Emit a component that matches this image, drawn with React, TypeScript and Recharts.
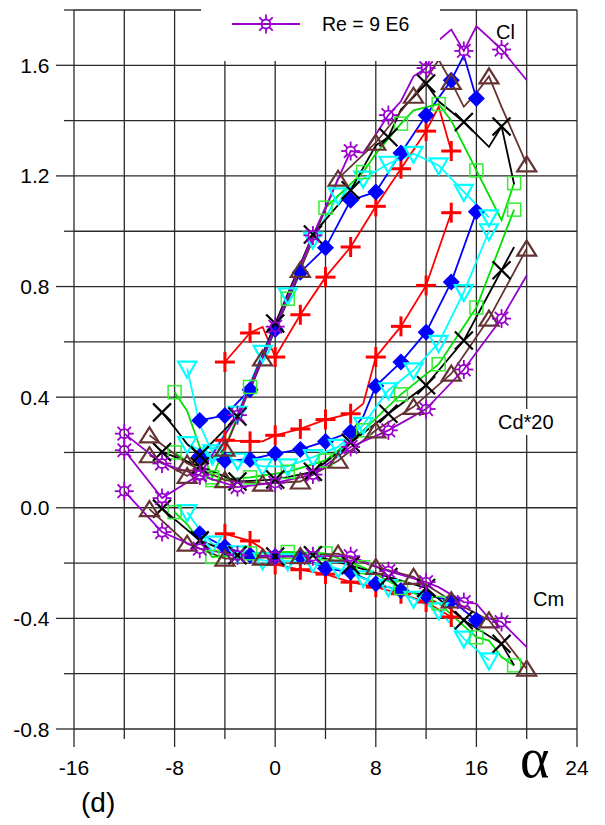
import React from 'react';
import { LineChart, Line, XAxis, YAxis, CartesianGrid, Legend } from 'recharts';

// axis ticks
const xTicks = [-16, -12, -8, -4, 0, 4, 8, 12, 16, 20, 24];
const xLabels = [-16, -8, 0, 8, 16, 24];
const yTicks = [-0.8, -0.6, -0.4, -0.2, 0, 0.2, 0.4, 0.6, 0.8, 1, 1.2, 1.4, 1.6, 1.8];
const yLabels = [-0.8, -0.4, 0, 0.4, 0.8, 1.2, 1.6];

// red (+)
const redMarks = [-4, -2, 0, 2, 4, 6, 8, 10, 12, 14];
const redClA = [-4, -2, -1, 0, 2, 4, 6, 8, 10, 12, 13, 14];
const redCl = [0.527, 0.632, 0.654, 0.545, 0.698, 0.834, 0.943, 1.09, 1.226, 1.362, 1.45, 1.29];
const redCdA = [-4, -2, -1, 0, 2, 4, 6, 7, 8, 10, 12, 14];
const redCd = [0.244, 0.24, 0.24, 0.262, 0.285, 0.319, 0.34, 0.376, 0.545, 0.656, 0.804, 1.067];
const redCmA = [-4, -2, -1, 0, 2, 4, 6, 8, 10, 12, 14];
const redCm = [-0.094, -0.12, -0.148, -0.205, -0.224, -0.24, -0.269, -0.287, -0.311, -0.341, -0.395];

// blue (filled diamond)
const blueMarks = [-6, -4, -2, 0, 2, 4, 6, 8, 10, 12, 14, 16];
const blueClA = [-6, -4, -2, 0, 2, 4, 6, 8, 10, 12, 14, 15, 16];
const blueCl = [0.316, 0.334, 0.427, 0.645, 0.852, 0.94, 1.112, 1.142, 1.283, 1.419, 1.546, 1.636, 1.48];
const blueCdA = [-6, -4, -2, 0, 2, 4, 6, 7, 8, 10, 12, 14, 16];
const blueCd = [0.186, 0.171, 0.175, 0.196, 0.211, 0.24, 0.274, 0.33, 0.44, 0.527, 0.635, 0.816, 1.07];
const blueCmA = [-6, -4, -2, 0, 2, 4, 6, 8, 10, 12, 14, 16];
const blueCm = [-0.094, -0.142, -0.172, -0.176, -0.176, -0.22, -0.232, -0.275, -0.299, -0.317, -0.335, -0.407];

// cyan (down triangle)
const cyanMarks = [-7, -5, -3, -1, 1, 3, 5, 7, 9, 11, 13, 15, 17];
const cyanClA = [-7, -6, -5, -3, -1, 1, 3, 5, 7, 9, 11, 13, 15, 17];
const cyanCl = [0.503, 0.3, 0.2, 0.34, 0.56, 0.768, 0.97, 1.13, 1.19, 1.244, 1.28, 1.238, 1.142, 1.05];
const cyanCdA = [-7, -5, -3, -1, 1, 3, 5, 7, 9, 11, 13, 15, 17];
const cyanCd = [0.23, 0.19, 0.17, 0.15, 0.15, 0.183, 0.22, 0.3, 0.425, 0.497, 0.596, 0.78, 1.0];
const cyanCmA = [-7, -6, -5, -3, -1, 1, 3, 5, 7, 9, 11, 13, 15, 17];
const cyanCm = [-0.016, -0.08, -0.13, -0.165, -0.19, -0.193, -0.2, -0.22, -0.255, -0.287, -0.329, -0.371, -0.473, -0.552];

// green (square)
const greenMarks = [-8, -5, -2, 1, 4, 7, 10, 13, 16, 19];
const greenClA = [-8, -7, -6, -5, -2, 1, 4, 7, 8, 10, 11, 13, 14, 16, 18, 19];
const greenCl = [0.418, 0.35, 0.22, 0.11, 0.437, 0.756, 1.085, 1.214, 1.28, 1.389, 1.437, 1.46, 1.4, 1.22, 1.04, 1.174];
const greenCdA = [-8, -5, -2, 1, 4, 7, 10, 13, 16, 19];
const greenCd = [0.2, 0.1, 0.11, 0.13, 0.171, 0.28, 0.41, 0.519, 0.724, 1.078];
const greenCmA = [-8, -7, -5, -2, 1, 4, 7, 10, 13, 16, 17, 18, 19];
const greenCm = [-0.016, -0.06, -0.178, -0.165, -0.16, -0.165, -0.215, -0.29, -0.345, -0.468, -0.48, -0.54, -0.57];

// black (x)
const blackMarks = [-9, -6, -3, 0, 3, 6, 9, 12, 15, 18];
const blackClA = [-9, -8, -7, -6, -3, 0, 3, 6, 7, 8, 9, 10, 11, 12, 13, 15, 16, 17, 18, 19];
const blackCl = [0.345, 0.29, 0.23, 0.19, 0.33, 0.666, 0.988, 1.148, 1.23, 1.31, 1.34, 1.44, 1.485, 1.534, 1.47, 1.395, 1.35, 1.305, 1.379, 1.17];
const blackCdA = [-9, -6, -3, 0, 3, 6, 9, 12, 15, 18, 19];
const blackCd = [0.202, 0.15, 0.095, 0.102, 0.13, 0.235, 0.34, 0.443, 0.605, 0.859, 0.943];
const blackCmA = [-9, -6, -3, 0, 3, 6, 9, 12, 15, 18, 19];
const blackCm = [-0.003, -0.118, -0.172, -0.176, -0.172, -0.208, -0.25, -0.29, -0.407, -0.492, -0.57];

// brown (up triangle)
const brownMarks = [-10, -7, -4, -1, 2, 5, 8, 11, 14, 17, 20];
const brownClA = [-10, -7, -4, -1, 2, 5, 8, 11, 12, 13, 14, 15, 16, 17, 18, 20];
const brownCl = [0.19, 0.115, 0.214, 0.54, 0.86, 1.19, 1.32, 1.49, 1.55, 1.62, 1.54, 1.45, 1.5, 1.56, 1.45, 1.242];
const brownCdA = [-10, -7, -4, -1, 2, 5, 8, 11, 14, 17, 20];
const brownCd = [0.262, 0.16, 0.1, 0.087, 0.095, 0.17, 0.28, 0.365, 0.485, 0.684, 0.937];
const brownCmA = [-10, -7, -4, -1, 2, 5, 8, 11, 14, 17, 20];
const brownCm = [-0.005, -0.13, -0.184, -0.18, -0.175, -0.166, -0.214, -0.25, -0.335, -0.407, -0.582];

// purple (star), Re = 9 E6
const purpleMarks = [-12, -9, -6, -3, 0, 3, 6, 9, 12, 15, 18];
const purpleClA = [-12, -9, -6, -3, 0, 3, 6, 7, 8, 9, 10, 11, 12, 13, 14, 15, 16, 17, 18, 20];
const purpleCl = [0.208, 0.035, 0.12, 0.335, 0.655, 0.985, 1.29, 1.284, 1.35, 1.42, 1.47, 1.56, 1.59, 1.69, 1.729, 1.652, 1.741, 1.7, 1.657, 1.546];
const purpleCdA = [-12, -9, -6, -3, 0, 3, 6, 9, 12, 15, 18, 20];
const purpleCd = [0.268, 0.16, 0.117, 0.075, 0.09, 0.12, 0.22, 0.28, 0.357, 0.5, 0.684, 0.84];
const purpleCmA = [-12, -9, -6, -3, 0, 3, 6, 9, 12, 13, 15, 16, 17, 18, 20];
const purpleCm = [0.06, -0.088, -0.148, -0.172, -0.176, -0.175, -0.175, -0.229, -0.269, -0.287, -0.341, -0.347, -0.4, -0.413, -0.504];

type Shape = 'plus' | 'diamond' | 'triDown' | 'square' | 'cross' | 'triUp' | 'star';

interface SeriesDef {
  id: string;
  line: string;
  mark: string;
  shape: Shape;
  marks: number[];
  curves: [number[], number[]][];
}

const series: SeriesDef[] = [
  { id: 'red', line: '#FF0000', mark: '#FF0000', shape: 'plus', marks: redMarks, curves: [[redClA, redCl], [redCdA, redCd], [redCmA, redCm]] },
  { id: 'blue', line: '#0000FF', mark: '#0000FF', shape: 'diamond', marks: blueMarks, curves: [[blueClA, blueCl], [blueCdA, blueCd], [blueCmA, blueCm]] },
  { id: 'cyan', line: '#00FFFF', mark: '#00FFFF', shape: 'triDown', marks: cyanMarks, curves: [[cyanClA, cyanCl], [cyanCdA, cyanCd], [cyanCmA, cyanCm]] },
  { id: 'green', line: '#00E000', mark: '#33EE33', shape: 'square', marks: greenMarks, curves: [[greenClA, greenCl], [greenCdA, greenCd], [greenCmA, greenCm]] },
  { id: 'black', line: '#000000', mark: '#000000', shape: 'cross', marks: blackMarks, curves: [[blackClA, blackCl], [blackCdA, blackCd], [blackCmA, blackCm]] },
  { id: 'brown', line: '#663333', mark: '#663333', shape: 'triUp', marks: brownMarks, curves: [[brownClA, brownCl], [brownCdA, brownCd], [brownCmA, brownCm]] },
  { id: 'purple', line: '#9900CC', mark: '#9900CC', shape: 'star', marks: purpleMarks, curves: [[purpleClA, purpleCl], [purpleCdA, purpleCd], [purpleCmA, purpleCm]] },
];

const FONT = '"Liberation Sans", Arial, sans-serif';

function Marker({ shape, color, cx, cy }: { shape: Shape; color: string; cx: number; cy: number }) {
  switch (shape) {
    case 'plus':
      return (
        <g stroke={color} strokeWidth={3}>
          <line x1={cx - 10} y1={cy} x2={cx + 10} y2={cy} />
          <line x1={cx} y1={cy - 10} x2={cx} y2={cy + 10} />
        </g>
      );
    case 'diamond':
      return <polygon points={`${cx},${cy - 8.5} ${cx + 8.5},${cy} ${cx},${cy + 8.5} ${cx - 8.5},${cy}`} fill={color} />;
    case 'triDown':
      return <polygon points={`${cx - 9},${cy - 7} ${cx + 9},${cy - 7} ${cx},${cy + 9}`} fill="none" stroke={color} strokeWidth={2.2} />;
    case 'square':
      return <rect x={cx - 6.5} y={cy - 6.5} width={13} height={13} fill="none" stroke={color} strokeWidth={1.5} />;
    case 'cross':
      return (
        <g stroke={color} strokeWidth={2.2}>
          <line x1={cx - 9} y1={cy - 9} x2={cx + 9} y2={cy + 9} />
          <line x1={cx - 9} y1={cy + 9} x2={cx + 9} y2={cy - 9} />
        </g>
      );
    case 'triUp':
      return <polygon points={`${cx - 9.5},${cy + 7} ${cx + 9.5},${cy + 7} ${cx},${cy - 8}`} fill="none" stroke={color} strokeWidth={2.2} />;
    case 'star': {
      const spokes = [0, 45, 90, 135, 180, 225, 270, 315].map((deg) => {
        const r = (deg * Math.PI) / 180;
        return (
          <line
            key={deg}
            x1={cx + 4.5 * Math.cos(r)}
            y1={cy + 4.5 * Math.sin(r)}
            x2={cx + 9.5 * Math.cos(r)}
            y2={cy + 9.5 * Math.sin(r)}
          />
        );
      });
      return (
        <g stroke={color} strokeWidth={1.8} fill="none">
          <circle cx={cx} cy={cy} r={4.5} />
          {spokes}
        </g>
      );
    }
  }
  return null;
}

function XTick(props: any) {
  const { x, y, payload } = props;
  const labeled = xLabels.includes(payload.value);
  return (
    <g>
      <line x1={x} y1={y} x2={x} y2={y + (labeled ? 18 : 10)} stroke="#2a2a2a" strokeWidth={1.3} />
      {labeled && (
        <text x={x} y={y + 46} textAnchor="middle" fontFamily={FONT} fontSize={21} fill="#000">
          {payload.value}
        </text>
      )}
    </g>
  );
}

function YTick(props: any) {
  const { x, y, payload } = props;
  const labeled = yLabels.some((v) => Math.abs(v - payload.value) < 1e-6);
  return (
    <g>
      <line x1={x} y1={y} x2={x - (labeled ? 18 : 10)} y2={y} stroke="#2a2a2a" strokeWidth={1.3} />
      {labeled && (
        <text x={x - 24.5} y={y + 7.5} textAnchor="end" fontFamily={FONT} fontSize={21} fill="#000">
          {Number(payload.value).toFixed(1)}
        </text>
      )}
    </g>
  );
}

function LegendBox() {
  return (
    <svg width={239} height={61} style={{ display: 'block', background: '#fff' }}>
      <line x1={31} y1={24} x2={99} y2={24} stroke="#9900CC" strokeWidth={1.8} />
      <Marker shape="star" color="#9900CC" cx={65} cy={24} />
      <text x={121} y={31} fontFamily={FONT} fontSize={19.5} fill="#000">
        Re = 9 E6
      </text>
    </svg>
  );
}

export default function App() {
  return (
    <div style={{ position: 'absolute', left: 0, top: 0, width: 605, height: 825, background: '#fff' }}>
      <LineChart width={605} height={825} margin={{ top: 10, right: 28, left: 0, bottom: 0 }}>
        <CartesianGrid stroke="#2a2a2a" strokeWidth={1.3} />
        <XAxis
          type="number"
          dataKey="a"
          domain={[-16, 24]}
          ticks={xTicks}
          interval={0}
          axisLine={false}
          tickLine={false}
          tickSize={0}
          tickMargin={0}
          height={96}
          tick={(p: any) => <XTick {...p} />}
        />
        <YAxis
          type="number"
          domain={[-0.8, 1.8]}
          ticks={yTicks}
          interval={0}
          axisLine={false}
          tickLine={false}
          tickSize={0}
          tickMargin={0}
          width={74}
          tick={(p: any) => <YTick {...p} />}
        />
        <Legend
          verticalAlign="middle"
          align="center"
          layout="horizontal"
          wrapperStyle={{ top: 0, left: 201, width: 239, height: 61 }}
          content={() => <LegendBox />}
        />
        {series.flatMap((s) =>
          s.curves.map(([alphas, vals], ci) => {
            const data = alphas.map((a, i) => ({ a, v: vals[i] }));
            return (
              <Line
                key={`${s.id}-${ci}`}
                data={data}
                dataKey="v"
                type="linear"
                stroke={s.line}
                strokeWidth={1.8}
                isAnimationActive={false}
                legendType="none"
                dot={(p: any) => {
                  const show = s.marks.includes(p.payload.a);
                  if (!show || p.cx == null) return <g key={`${s.id}-${ci}-${p.index}`} />;
                  return (
                    <g key={`${s.id}-${ci}-${p.index}`}>
                      <Marker shape={s.shape} color={s.mark} cx={p.cx} cy={p.cy} />
                    </g>
                  );
                }}
                activeDot={false}
              />
            );
          })
        )}
      </LineChart>
      <svg width={605} height={825} style={{ position: 'absolute', left: 0, top: 0, pointerEvents: 'none' }}>
        <text x={496} y={39} fontFamily={FONT} fontSize={20} fill="#000">Cl</text>
        <rect x={496} y={409} width={64} height={26} fill="#fff" />
        <text x={498} y={429} fontFamily={FONT} fontSize={20} fill="#000">Cd*20</text>
        <text x={533} y={606} fontFamily={FONT} fontSize={20} fill="#000">Cm</text>
        <text x={520} y={777} fontFamily='"Liberation Serif", "DejaVu Serif", serif' fontSize={56} fill="#000">α</text>
        <text x={81} y={812} fontFamily={FONT} fontSize={28} fill="#000">(d)</text>
      </svg>
    </div>
  );
}
